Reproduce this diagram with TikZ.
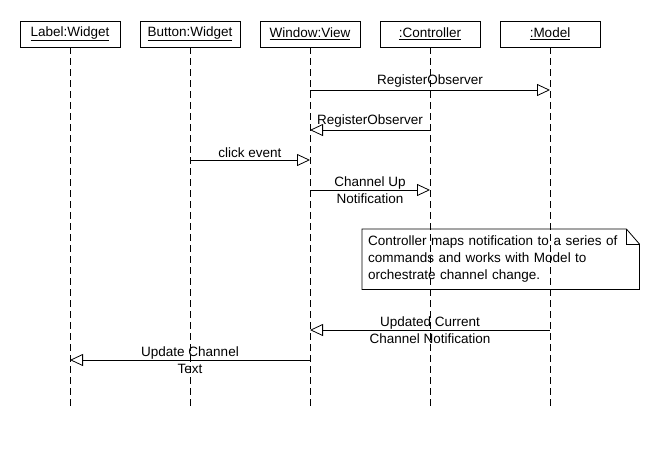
\documentclass[tikz,border=0pt]{standalone}
\usepackage{fontspec}
\setmainfont{Liberation Sans}
\usetikzlibrary{positioning, arrows.meta}

\tikzstyle{obj}=[%
      rectangle, draw=black, fill=white, line width=0.8pt,
      minimum height=26pt, minimum width=100pt, inner sep=2pt
]
\tikzstyle{lifeline}=[%
      draw=black, line width=0.8pt, dash pattern=on 7pt off 4pt
]
\tikzstyle{msg}=[%
      draw=black, line width=0.8pt, -{Triangle[open, length=13pt, width=12pt]}
]
\tikzstyle{note}=[%
      draw=black, line width=0.8pt, fill=none
]

\begin{document}
\begin{tikzpicture}[x=1pt, y=1pt, node distance=19.2pt,
    font=\fontsize{13.5}{16.5}\selectfont
  ]
    \useasboundingbox (0,0) rectangle (660,-450);

    \node[obj] (label) at (70,-34)  {\underline{Label:Widget}};
    \node[obj] (button) [right = of label] {\underline{Button:Widget}};
    \node[obj] (window) [right = of button] {\underline{Window:View}};
    \node[obj] (controller) [right = of window] {\underline{:Controller}};
    \node[obj] (model) [right = of controller] {\underline{:Model}};

    % lifelines
    \foreach \n in {label, button, window, controller, model} {
      \coordinate (\n-end) at (\n |- 0,-407);
      \draw[lifeline] (\n) -- (\n-end);
    }

    % message points
    \coordinate (w1) at (window |- 0,-90);
    \coordinate (m1) at (model |- 0,-90);
    \coordinate (c2) at (controller |- 0,-130);
    \coordinate (w2) at (window |- 0,-130);
    \coordinate (b3) at (button |- 0,-160);
    \coordinate (w3) at (window |- 0,-160);
    \coordinate (w4) at (window |- 0,-190);
    \coordinate (c4) at (controller |- 0,-190);
    \coordinate (m5) at (model |- 0,-330);
    \coordinate (w5) at (window |- 0,-330);
    \coordinate (w6) at (window |- 0,-360);
    \coordinate (l6) at (label |- 0,-360);

    \path (w1) edge[msg] node[above, inner sep=2pt] {RegisterObserver} (m1)
          (c2) edge[msg] node[above, inner sep=2pt] {RegisterObserver} (w2)
          (b3) edge[msg] node[above, inner sep=2pt] {click event} (w3)
          (w4) edge[msg] node[align=center, inner sep=0pt] {Channel Up\\Notification} (c4)
          (m5) edge[msg] node[align=center, inner sep=0pt] {Updated Current\\Channel Notification} (w5)
          (w6) edge[msg] node[align=center, inner sep=0pt] {Update Channel\\Text} (l6)
    ;

    % note
    \node (note) [anchor=north west, minimum width=277pt, minimum height=60pt,
                  inner xsep=6pt, inner ysep=0pt, text width=265pt, align=left,
                  font=\fontsize{13.5}{17}\selectfont] at (362,-229)
          {Controller maps notification to a series of\\commands and works with Model to\\orchestrate channel change.};
    \draw[note] (note.north west) -- ([xshift=-13pt]note.north east)
          -- ([yshift=-15pt]note.north east) -- (note.south east)
          -- (note.south west) -- cycle;
    \draw[note] ([xshift=-13pt]note.north east) |- ([yshift=-15pt]note.north east);

  \end{tikzpicture}
\end{document}
